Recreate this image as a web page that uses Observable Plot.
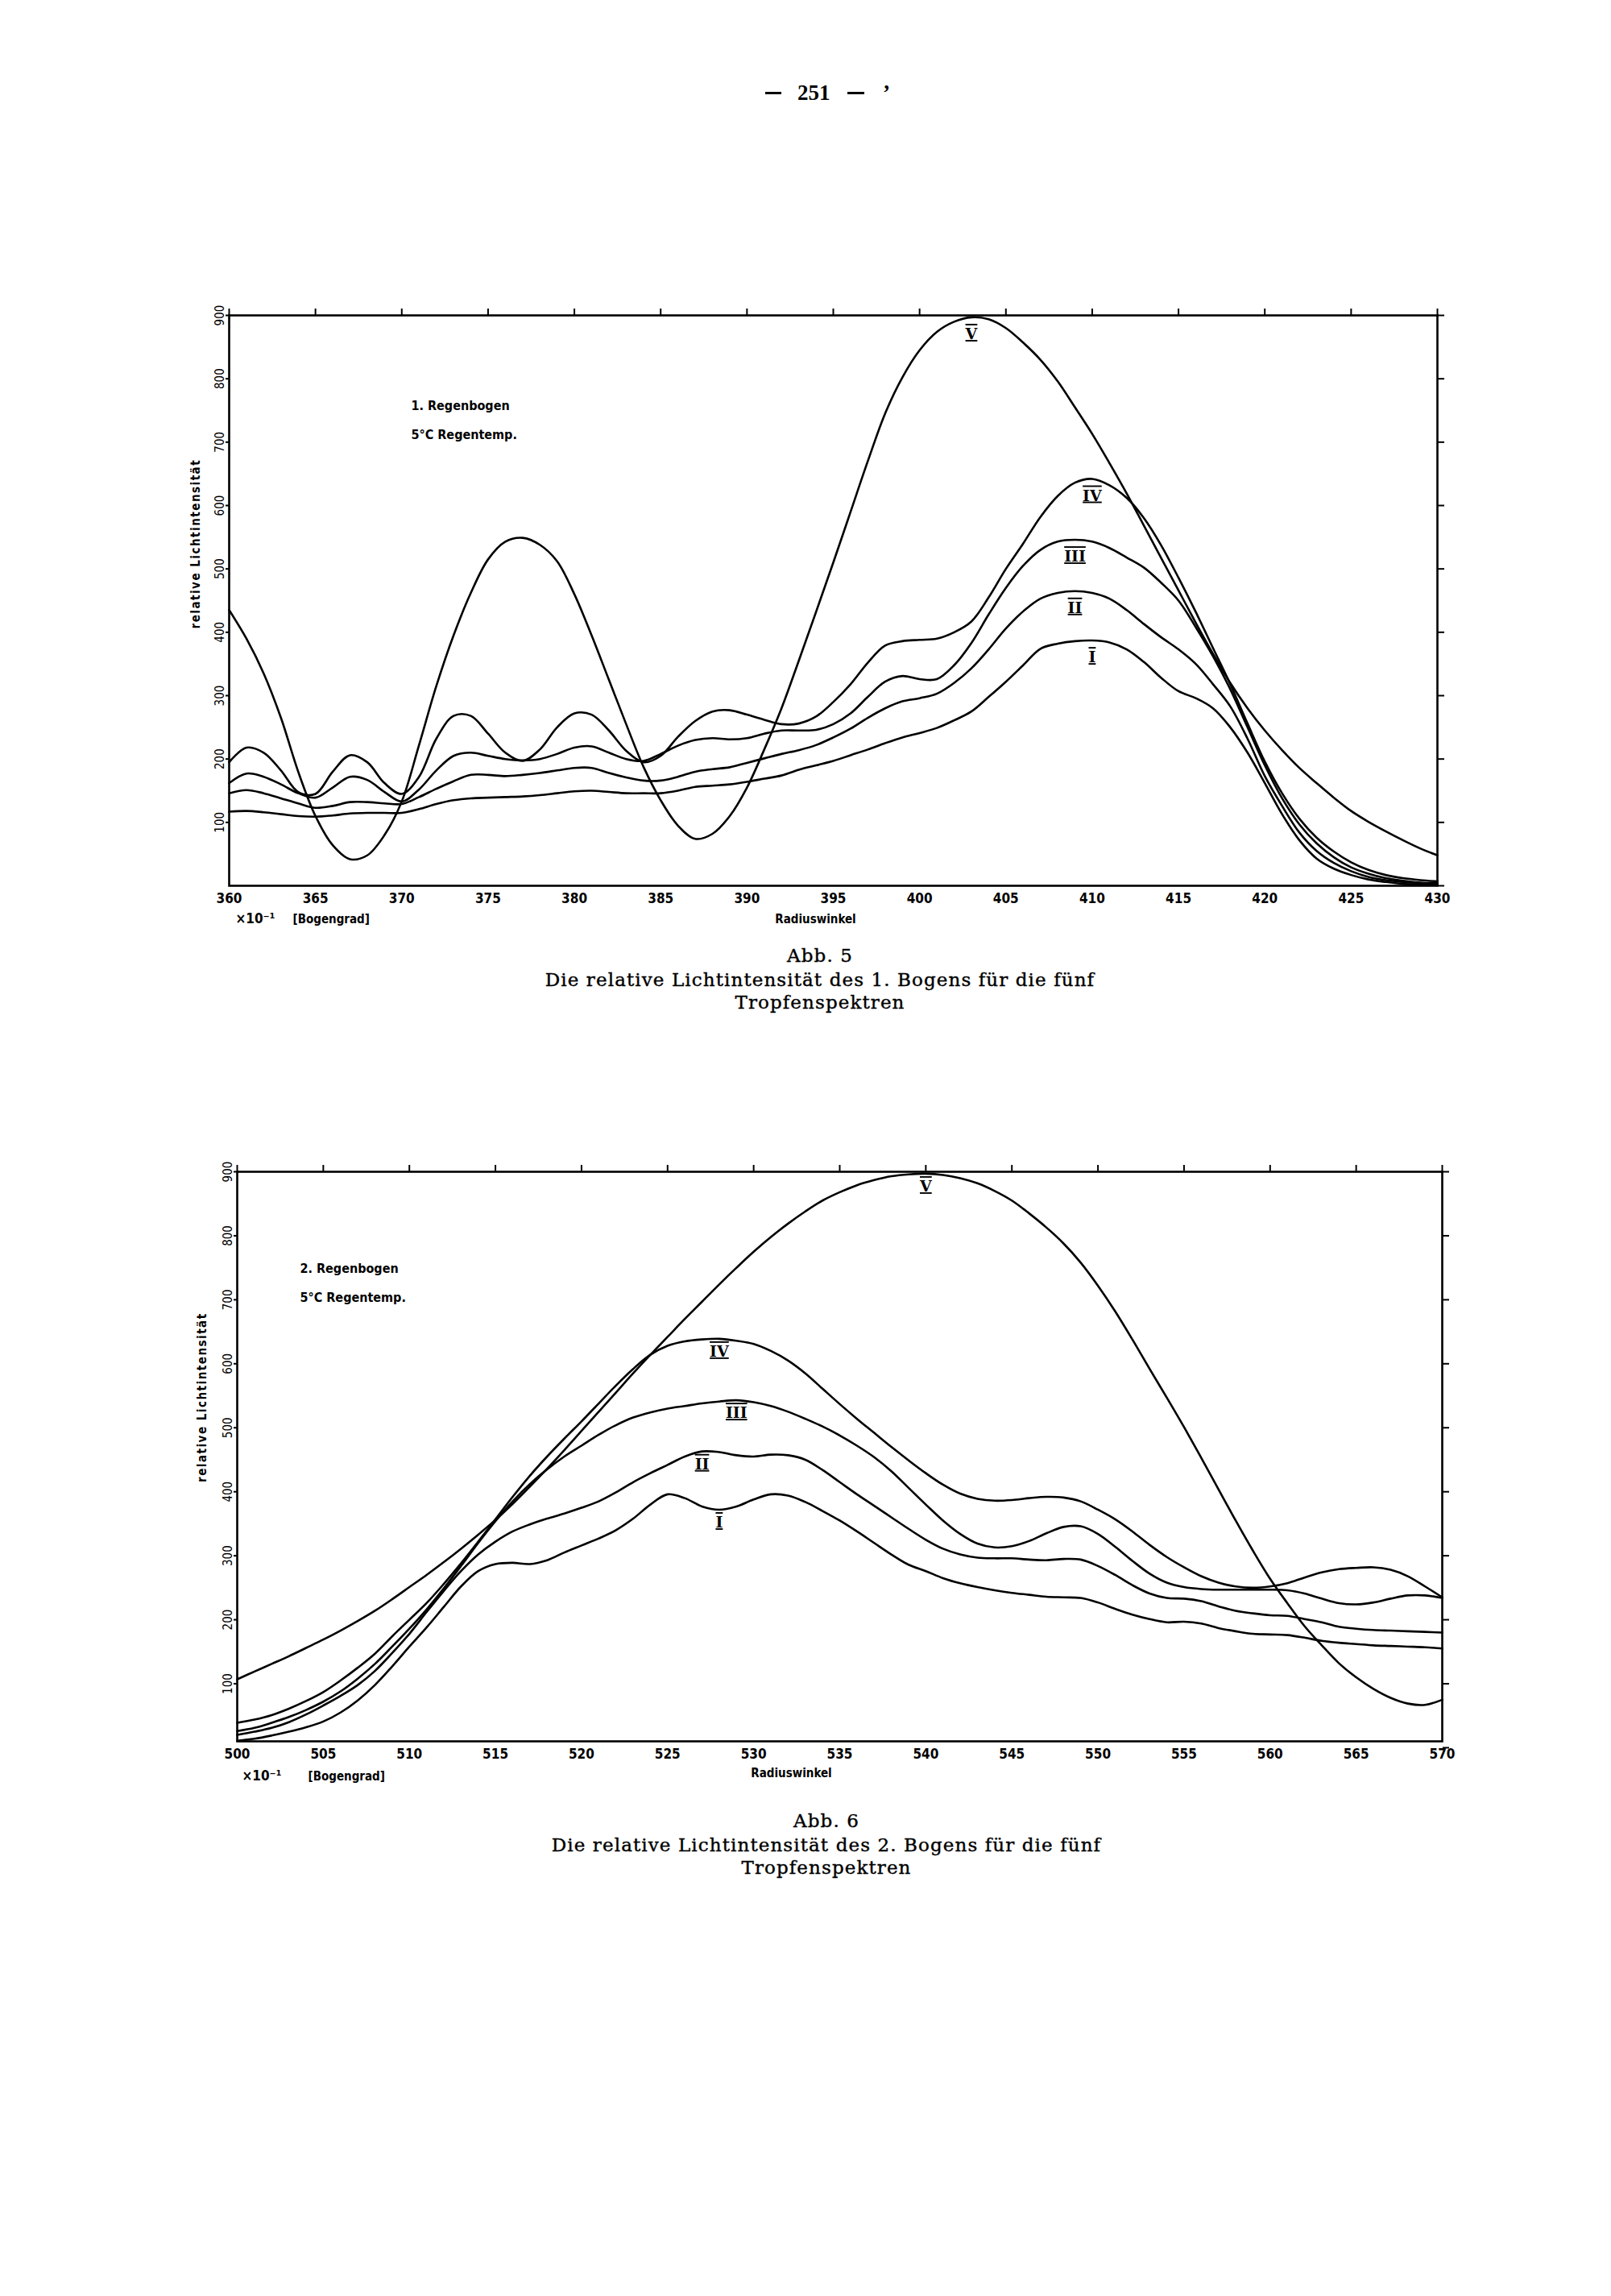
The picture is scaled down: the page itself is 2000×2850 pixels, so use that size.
<!DOCTYPE html>
<html>
<head>
<meta charset="utf-8">
<script src="https://cdn.jsdelivr.net/npm/d3@7"></script>
<script src="https://cdn.jsdelivr.net/npm/@observablehq/plot@0.6"></script>
<style>
  html, body { margin: 0; padding: 0; background: #fff; }
  #page { position: relative; width: 2000px; height: 2850px; background: #fff; overflow: hidden; }
  .plot { position: absolute; left: 0; }
  .cap { position: absolute; left: 0; text-align: center; font-family: "DejaVu Serif", serif; font-size: 23px; letter-spacing: 1.1px; color: #000; line-height: 26px; white-space: nowrap; -webkit-text-stroke: 0.4px #000; }
  .pn { position: absolute; top: 102px; font-family: "Liberation Serif", serif; font-size: 27px; line-height: 27px; font-weight: bold; color: #000; white-space: nowrap; }
  .dash { position: absolute; top: 114px; height: 3px; background: #000; }
</style>
</head>
<body>
<div id="page">
  <div class="dash" style="left:950px;width:20px"></div>
  <div class="pn" style="left:990px">251</div>
  <div class="dash" style="left:1052px;width:21px"></div>
  <div class="pn" style="left:1096px">ʼ</div>
  <div id="plot1" class="plot" style="top:300px"></div>
  <div class="cap" style="top:1173px;width:2036px">Abb. 5</div>
  <div class="cap" style="top:1203px;width:2036px">Die relative Lichtintensität des 1. Bogens für die fünf</div>
  <div class="cap" style="top:1231px;width:2036px">Tropfenspektren</div>
  <div id="plot2" class="plot" style="top:1360px"></div>
  <div class="cap" style="top:2247px;width:2052px">Abb. 6</div>
  <div class="cap" style="top:2277px;width:2052px">Die relative Lichtintensität des 2. Bogens für die fünf</div>
  <div class="cap" style="top:2305px;width:2052px">Tropfenspektren</div>
</div>
<script>
// ---------- Abb. 5 : 1. Regenbogen ----------
const radius1 = [360,361,362,363,364,365,366,367,368,369,370,371,372,373,374,375,376,377,378,379,
  380,381,382,383,384,385,386,387,388,389,390,391,392,393,394,395,396,397,398,399,
  400,401,402,403,404,405,406,407,408,409,410,411,412,413,414,415,416,417,418,419,
  420,421,422,423,424,425,426,427,428,429,430];
const bow1_I = [117,118,116,113,110,109,111,114,115,115,115,121,129,135,138,139,140,141,143,146,
  149,150,148,146,146,146,150,156,158,160,164,169,174,183,190,197,206,215,225,234,
  241,249,261,275,298,322,348,374,382,386,387,384,373,353,328,307,296,280,250,210,
  162,113,72,43,27,17,10,6,3,2,1];
const bow1_II = [146,151,146,138,130,123,126,132,132,130,129,140,153,165,175,175,173,175,178,182,
  186,186,178,171,166,166,172,180,184,187,194,201,208,214,222,234,248,265,280,291,
  296,303,320,343,373,406,433,453,462,465,462,453,435,413,392,373,350,318,283,232,
  173,126,84,55,36,23,14,9,6,4,2];
const bow1_III = [162,177,172,160,146,139,155,172,167,148,133,152,182,205,210,205,200,198,200,208,
  218,220,210,200,197,208,221,230,233,231,233,240,245,245,246,255,272,298,322,331,
  326,326,348,383,428,470,505,530,543,546,543,533,518,502,478,450,408,362,310,250,
  190,138,97,67,45,29,19,12,8,5,4];
const bow1_IV = [195,218,210,182,148,145,180,206,195,162,145,172,232,268,268,240,210,197,215,250,
  272,270,245,213,195,205,235,260,275,277,270,262,255,256,267,290,318,352,379,386,
  388,390,400,417,455,500,540,582,615,636,642,632,612,580,537,486,432,375,318,256,
  196,146,106,76,54,37,25,17,12,9,7];
const bow1_V = [435,390,335,265,180,110,64,42,48,80,133,222,315,395,462,515,543,549,538,512,
  460,395,325,255,188,135,95,74,82,110,155,215,280,355,432,510,590,670,745,802,
  845,874,890,897,894,880,857,830,796,755,713,667,619,568,517,466,415,366,320,280,
  245,214,186,162,139,118,101,86,72,59,48];
const xTicks1 = [360,365,370,375,380,385,390,395,400,405,410,415,420,425,430];
const labelAt1 = {I: 410, II: 409, III: 409, IV: 410, V: 403};

// ---------- Abb. 6 : 2. Regenbogen ----------
const radius2 = [500,501,502,503,504,505,506,507,508,509,510,511,512,513,514,515,516,517,518,519,
  520,521,522,523,524,525,526,527,528,529,530,531,532,533,534,535,536,537,538,539,
  540,541,542,543,544,545,546,547,548,549,550,551,552,553,554,555,556,557,558,559,
  560,561,562,563,564,565,566,567,568,569,570];
const bow2_I = [11,14,19,25,32,41,55,74,98,127,158,188,220,252,276,287,289,287,293,305,
  316,327,340,358,380,396,390,377,372,377,388,396,394,384,370,355,338,320,302,286,
  276,265,257,251,246,242,239,236,235,234,227,217,208,201,196,197,194,187,182,178,
  177,176,172,167,164,162,160,159,158,157,155];
const bow2_II = [20,25,31,40,52,66,81,98,120,148,178,212,245,276,302,322,338,349,358,366,
  375,385,399,415,429,442,455,463,462,457,455,458,457,450,434,415,396,378,360,342,
  325,311,302,297,296,296,294,293,295,294,284,270,254,241,234,233,229,221,214,210,
  207,206,201,196,189,186,184,183,182,181,180];
const bow2_III = [26,31,39,48,59,72,88,108,131,158,186,216,249,284,320,354,385,412,435,455,
  472,489,504,516,524,530,534,538,541,543,540,534,525,514,502,488,472,454,432,406,
  380,355,334,319,313,315,323,335,345,346,334,314,292,272,258,251,248,247,247,247,
  247,246,241,233,226,224,227,233,238,238,234];
const bow2_IV = [39,44,51,61,73,87,105,125,147,174,200,226,256,288,322,357,392,425,455,483,
  510,538,566,592,614,628,635,638,639,636,631,620,605,585,561,537,514,492,470,449,
  429,411,397,389,386,387,390,392,391,385,372,357,338,317,298,282,268,258,252,250,
  252,257,266,274,279,281,282,278,268,252,235];
const bow2_V = [107,119,131,143,156,169,183,198,214,232,251,270,290,311,333,356,381,408,436,465,
  495,525,555,585,614,642,670,697,724,750,775,798,819,838,855,868,879,887,893,896,
  897,895,890,882,870,855,835,813,788,758,722,682,638,592,547,501,453,404,355,308,
  264,226,190,160,132,110,92,78,69,67,75];
const xTicks2 = [500,505,510,515,520,525,530,535,540,545,550,555,560,565,570];
const labelAt2 = {I: 528, II: 527, III: 529, IV: 528, V: 540};

const yTicks = [0,100,200,300,400,500,600,700,800,900];
const yTickLabels = [100,200,300,400,500,600,700,800,900];

function rowsFrom(xs, list) {
  return list.flatMap(([name, ys]) => xs.map((x, i) => ({x, y: ys[i], curve: name})));
}
function labelsFrom(xs, list, at) {
  return list.map(([name, ys]) => { const i = xs.indexOf(at[name]); return {x: xs[i], y: ys[i], label: name}; });
}

const sans = "'DejaVu Sans Condensed', 'DejaVu Sans', sans-serif";

function makeChart({xs, list, labelAt, xTicks, domainX, domainY, marginLeft, marginRight, marginTop, marginBottom,
                    title1, title2, titleDx, titleDy, ylabDx, ylabDy, radDx, radDy, unitDx, bracketDx, unitDy, labelDy}) {
  const rows = rowsFrom(xs, list);
  const labels = labelsFrom(xs, list, labelAt);
  return Plot.plot({
    width: 2000, height: 880,
    marginLeft, marginRight, marginTop, marginBottom,
    x: {domain: domainX},
    y: {domain: domainY},
    style: {fontFamily: sans, background: "white", color: "black", overflow: "visible"},
    marks: [
      Plot.line(rows, {x: "x", y: "y", z: "curve", curve: "catmull-rom", stroke: "black", strokeWidth: 2.6}),
      Plot.frame({stroke: "black", strokeWidth: 2.6}),
      Plot.axisX({anchor: "bottom", ticks: xTicks, tickSize: 0, tickPadding: 9, fontSize: 17, fontWeight: "bold", label: null}),
      Plot.axisX({anchor: "top", ticks: xTicks, tickSize: 9, strokeWidth: 2, tickFormat: () => "", label: null}),
      Plot.axisY({anchor: "left", ticks: yTickLabels, tickSize: 4, tickPadding: 3, tickRotate: -90, fontSize: 15, strokeWidth: 2, label: null}),
      Plot.axisY({anchor: "right", ticks: yTicks, tickSize: 8, strokeWidth: 2, tickFormat: () => "", label: null}),
      Plot.text(labels, {x: "x", y: "y", text: "label", dy: labelDy, lineAnchor: "middle", fontFamily: "'DejaVu Serif', serif", fontSize: 19, fontWeight: "bold"}),
      Plot.text([title1], {frameAnchor: "top-left", textAnchor: "start", dx: titleDx, dy: titleDy, fontSize: 16, fontWeight: "bold"}),
      Plot.text([title2], {frameAnchor: "top-left", textAnchor: "start", dx: titleDx, dy: titleDy + 36, fontSize: 16, fontWeight: "bold"}),
      Plot.text(["relative Lichtintensität"], {frameAnchor: "left", rotate: -90, dx: ylabDx, dy: ylabDy, fontSize: 15, fontWeight: "bold"}),
      Plot.text(["Radiuswinkel"], {frameAnchor: "bottom", dx: radDx, dy: radDy, fontSize: 15, fontWeight: "bold"}),
      Plot.text(["×10⁻¹"], {frameAnchor: "bottom-left", textAnchor: "start", dx: unitDx, dy: unitDy, fontSize: 17, fontWeight: "bold"}),
      Plot.text(["[Bogengrad]"], {frameAnchor: "bottom-left", textAnchor: "start", dx: bracketDx, dy: unitDy, fontSize: 15, fontWeight: "bold"})
    ]
  });
}

const series1 = [["I", bow1_I], ["II", bow1_II], ["III", bow1_III], ["IV", bow1_IV], ["V", bow1_V]];
const series2 = [["I", bow2_I], ["II", bow2_II], ["III", bow2_III], ["IV", bow2_IV], ["V", bow2_V]];

const chart1 = makeChart({
  xs: radius1, list: series1, labelAt: labelAt1, xTicks: xTicks1, domainX: [360, 430], domainY: [0, 900],
  marginLeft: 284, marginRight: 216, marginTop: 91, marginBottom: 81,
  title1: "1. Regenbogen", title2: "5°C Regentemp.", titleDx: 226, titleDy: 106,
  ylabDx: -41, ylabDy: 35, radDx: -22, radDy: 46, unitDx: 8, bracketDx: 79, unitDy: 46, labelDy: 21
});
const chart2 = makeChart({
  xs: radius2, list: series2, labelAt: labelAt2, xTicks: xTicks2, domainX: [500, 570], domainY: [10, 900],
  marginLeft: 294, marginRight: 210, marginTop: 94, marginBottom: 79,
  title1: "2. Regenbogen", title2: "5°C Regentemp.", titleDx: 78, titleDy: 114,
  ylabDx: -43, ylabDy: 32, radDx: -60, radDy: 44, unitDx: 6, bracketDx: 88, unitDy: 48, labelDy: 16
});

document.getElementById("plot1").appendChild(chart1);
document.getElementById("plot2").appendChild(chart2);

// roman numeral labels drawn with bars above and below, like the typewriter numerals
for (const svg of [chart1, chart2]) {
  svg.querySelectorAll("text").forEach(t => {
    if (/^(I|II|III|IV|V)$/.test(t.textContent)) {
      t.style.textDecoration = "overline underline";
      t.style.textDecorationThickness = "2px";
    }
    if (t.textContent === "relative Lichtintensität") t.style.letterSpacing = "1.5px";
  });
}
</script>
</body>
</html>
